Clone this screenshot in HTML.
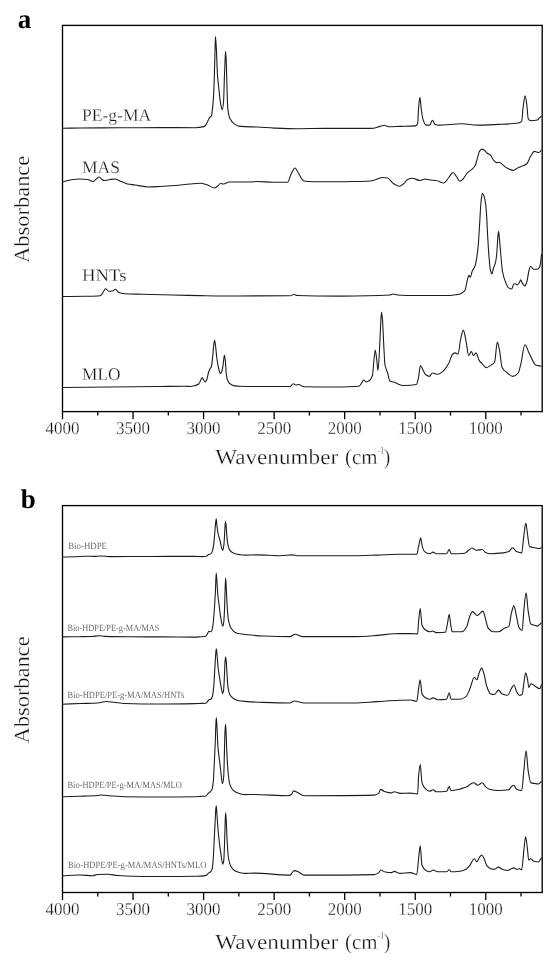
<!DOCTYPE html>
<html><head><meta charset="utf-8"><style>
html,body{margin:0;padding:0;background:#fff;}
svg{display:block;will-change:transform;text-rendering:geometricPrecision;}
text{font-family:"Liberation Serif",serif;fill:#111;stroke:#fff;stroke-width:0.28px;}
.tk{font-size:18px;}
.ti{font-size:21.5px;}
.ab{font-size:21.5px;}
.pl{font-size:27px;font-weight:bold;fill:#000;stroke:none;}
.sl{font-size:17.6px;}
.sb{font-size:9.5px;fill:#6a6a6a;stroke:none;}
.sp{fill:none;stroke:#1c1c1c;stroke-width:1.1;stroke-linejoin:round;}
</style></head><body>
<svg width="560" height="962" viewBox="0 0 560 962">
<rect x="62.5" y="25.4" width="479.70" height="386.20" fill="none" stroke="#000" stroke-width="1.35"/>
<line x1="521.04" y1="411.6" x2="521.04" y2="415.60" stroke="#000" stroke-width="1.3"/>
<line x1="485.76" y1="411.6" x2="485.76" y2="419.20" stroke="#000" stroke-width="1.3"/>
<text x="485.76" y="434.2" class="tk" text-anchor="middle" textLength="34" lengthAdjust="spacingAndGlyphs">1000</text>
<line x1="450.49" y1="411.6" x2="450.49" y2="415.60" stroke="#000" stroke-width="1.3"/>
<line x1="415.22" y1="411.6" x2="415.22" y2="419.20" stroke="#000" stroke-width="1.3"/>
<text x="415.22" y="434.2" class="tk" text-anchor="middle" textLength="34" lengthAdjust="spacingAndGlyphs">1500</text>
<line x1="379.95" y1="411.6" x2="379.95" y2="415.60" stroke="#000" stroke-width="1.3"/>
<line x1="344.68" y1="411.6" x2="344.68" y2="419.20" stroke="#000" stroke-width="1.3"/>
<text x="344.68" y="434.2" class="tk" text-anchor="middle" textLength="34" lengthAdjust="spacingAndGlyphs">2000</text>
<line x1="309.40" y1="411.6" x2="309.40" y2="415.60" stroke="#000" stroke-width="1.3"/>
<line x1="274.13" y1="411.6" x2="274.13" y2="419.20" stroke="#000" stroke-width="1.3"/>
<text x="274.13" y="434.2" class="tk" text-anchor="middle" textLength="34" lengthAdjust="spacingAndGlyphs">2500</text>
<line x1="238.86" y1="411.6" x2="238.86" y2="415.60" stroke="#000" stroke-width="1.3"/>
<line x1="203.59" y1="411.6" x2="203.59" y2="419.20" stroke="#000" stroke-width="1.3"/>
<text x="203.59" y="434.2" class="tk" text-anchor="middle" textLength="34" lengthAdjust="spacingAndGlyphs">3000</text>
<line x1="168.32" y1="411.6" x2="168.32" y2="415.60" stroke="#000" stroke-width="1.3"/>
<line x1="133.04" y1="411.6" x2="133.04" y2="419.20" stroke="#000" stroke-width="1.3"/>
<text x="133.04" y="434.2" class="tk" text-anchor="middle" textLength="34" lengthAdjust="spacingAndGlyphs">3500</text>
<line x1="97.77" y1="411.6" x2="97.77" y2="415.60" stroke="#000" stroke-width="1.3"/>
<line x1="62.50" y1="411.6" x2="62.50" y2="419.20" stroke="#000" stroke-width="1.3"/>
<text x="62.50" y="434.2" class="tk" text-anchor="middle" textLength="34" lengthAdjust="spacingAndGlyphs">4000</text>
<text x="215.2" y="464.3" class="ti" textLength="123" lengthAdjust="spacingAndGlyphs">Wavenumber</text>
<text x="345.0" y="464.3" class="ti" textLength="32.5" lengthAdjust="spacingAndGlyphs">(cm</text>
<text x="377.8" y="453.70" class="ti" style="font-size:11px" textLength="6.2" lengthAdjust="spacingAndGlyphs">-1</text>
<text x="383.9" y="464.3" class="ti" textLength="6.2" lengthAdjust="spacingAndGlyphs">)</text>
<text transform="translate(28.8,262.9) rotate(-90)" class="ab" textLength="107.2" lengthAdjust="spacingAndGlyphs">Absorbance</text>
<text x="17.8" y="27.7" class="pl">a</text>
<rect x="62.5" y="505.6" width="479.70" height="386.90" fill="none" stroke="#000" stroke-width="1.35"/>
<line x1="521.04" y1="892.5" x2="521.04" y2="896.50" stroke="#000" stroke-width="1.3"/>
<line x1="485.76" y1="892.5" x2="485.76" y2="900.10" stroke="#000" stroke-width="1.3"/>
<text x="485.76" y="914.6" class="tk" text-anchor="middle" textLength="34" lengthAdjust="spacingAndGlyphs">1000</text>
<line x1="450.49" y1="892.5" x2="450.49" y2="896.50" stroke="#000" stroke-width="1.3"/>
<line x1="415.22" y1="892.5" x2="415.22" y2="900.10" stroke="#000" stroke-width="1.3"/>
<text x="415.22" y="914.6" class="tk" text-anchor="middle" textLength="34" lengthAdjust="spacingAndGlyphs">1500</text>
<line x1="379.95" y1="892.5" x2="379.95" y2="896.50" stroke="#000" stroke-width="1.3"/>
<line x1="344.68" y1="892.5" x2="344.68" y2="900.10" stroke="#000" stroke-width="1.3"/>
<text x="344.68" y="914.6" class="tk" text-anchor="middle" textLength="34" lengthAdjust="spacingAndGlyphs">2000</text>
<line x1="309.40" y1="892.5" x2="309.40" y2="896.50" stroke="#000" stroke-width="1.3"/>
<line x1="274.13" y1="892.5" x2="274.13" y2="900.10" stroke="#000" stroke-width="1.3"/>
<text x="274.13" y="914.6" class="tk" text-anchor="middle" textLength="34" lengthAdjust="spacingAndGlyphs">2500</text>
<line x1="238.86" y1="892.5" x2="238.86" y2="896.50" stroke="#000" stroke-width="1.3"/>
<line x1="203.59" y1="892.5" x2="203.59" y2="900.10" stroke="#000" stroke-width="1.3"/>
<text x="203.59" y="914.6" class="tk" text-anchor="middle" textLength="34" lengthAdjust="spacingAndGlyphs">3000</text>
<line x1="168.32" y1="892.5" x2="168.32" y2="896.50" stroke="#000" stroke-width="1.3"/>
<line x1="133.04" y1="892.5" x2="133.04" y2="900.10" stroke="#000" stroke-width="1.3"/>
<text x="133.04" y="914.6" class="tk" text-anchor="middle" textLength="34" lengthAdjust="spacingAndGlyphs">3500</text>
<line x1="97.77" y1="892.5" x2="97.77" y2="896.50" stroke="#000" stroke-width="1.3"/>
<line x1="62.50" y1="892.5" x2="62.50" y2="900.10" stroke="#000" stroke-width="1.3"/>
<text x="62.50" y="914.6" class="tk" text-anchor="middle" textLength="34" lengthAdjust="spacingAndGlyphs">4000</text>
<text x="215.2" y="949.3" class="ti" textLength="123" lengthAdjust="spacingAndGlyphs">Wavenumber</text>
<text x="345.0" y="949.3" class="ti" textLength="32.5" lengthAdjust="spacingAndGlyphs">(cm</text>
<text x="377.8" y="938.70" class="ti" style="font-size:11px" textLength="6.2" lengthAdjust="spacingAndGlyphs">-1</text>
<text x="383.9" y="949.3" class="ti" textLength="6.2" lengthAdjust="spacingAndGlyphs">)</text>
<text transform="translate(28.8,743.5) rotate(-90)" class="ab" textLength="107.2" lengthAdjust="spacingAndGlyphs">Absorbance</text>
<text x="20.8" y="508.3" class="pl">b</text>
<path d="M62.50,128.30 C68.33,128.20 74.17,128.05 80.00,128.00 C93.33,127.89 106.67,127.87 120.00,127.80 C133.33,127.73 146.67,127.60 160.00,127.60 C171.67,127.60 183.33,127.70 195.00,127.70 C197.90,127.70 200.80,127.33 203.70,126.60 C204.43,126.42 205.17,125.78 205.90,125.00 C206.63,124.22 207.37,122.09 208.10,120.60 C208.63,119.52 209.17,117.83 209.70,117.30 C210.27,116.74 210.83,116.91 211.40,116.20 C211.77,115.74 212.13,111.81 212.50,108.60 C212.87,105.39 213.23,101.71 213.60,95.50 C213.87,90.99 214.13,82.08 214.40,73.70 C214.60,67.42 214.80,59.28 215.00,51.80 C215.13,46.81 215.27,36.50 215.40,36.50 C215.70,36.50 216.00,42.71 216.30,47.50 C216.67,53.36 217.03,68.33 217.40,73.70 C217.93,81.50 218.47,85.10 219.00,90.00 C219.57,95.21 220.13,101.45 220.70,104.20 C221.23,106.79 221.77,109.70 222.30,109.70 C222.73,109.70 223.17,105.94 223.60,101.00 C223.90,97.58 224.20,81.19 224.50,73.70 C224.67,69.54 224.83,66.21 225.00,62.80 C225.20,58.71 225.40,51.30 225.60,51.30 C225.87,51.30 226.13,58.37 226.40,64.90 C226.57,68.98 226.73,79.20 226.90,84.60 C227.20,94.32 227.50,105.97 227.80,108.60 C228.50,114.73 229.20,116.92 229.90,118.40 C231.37,121.50 232.83,122.85 234.30,123.90 C235.77,124.95 237.23,125.89 238.70,126.10 C240.80,126.40 242.90,126.50 245.00,126.60 C249.00,126.80 253.00,126.83 257.00,127.00 C262.77,127.25 268.53,127.88 274.30,128.10 C281.87,128.39 289.43,128.70 297.00,128.70 C306.57,128.70 316.13,128.40 325.70,128.40 C340.93,128.40 356.17,128.40 371.40,128.40 C374.27,128.40 377.13,127.10 380.00,126.40 C381.43,126.05 382.87,125.30 384.30,125.30 C385.73,125.30 387.17,126.70 388.60,126.70 C392.40,126.70 396.20,126.51 400.00,126.40 C405.17,126.25 410.33,126.32 415.50,125.90 C416.20,125.84 416.90,125.27 417.60,123.80 C417.93,123.10 418.27,111.98 418.60,108.30 C419.03,103.52 419.47,97.40 419.90,97.40 C420.33,97.40 420.77,105.11 421.20,108.30 C421.73,112.22 422.27,116.93 422.80,118.70 C423.83,122.13 424.87,125.10 425.90,125.10 C427.20,125.10 428.50,125.10 429.80,125.10 C430.67,125.10 431.53,120.20 432.40,120.20 C433.27,120.20 434.13,124.10 435.00,124.40 C436.27,124.84 437.53,125.10 438.80,125.10 C446.57,125.10 454.33,123.80 462.10,123.80 C467.30,123.80 472.50,125.10 477.70,125.10 C484.60,125.10 491.50,124.70 498.40,124.40 C504.43,124.14 510.47,124.03 516.50,123.30 C518.23,123.09 519.97,122.88 521.70,121.30 C522.13,120.91 522.57,111.58 523.00,108.30 C523.70,103.00 524.40,95.90 525.10,95.90 C525.70,95.90 526.30,101.40 526.90,105.70 C527.33,108.80 527.77,118.02 528.20,118.70 C529.07,120.07 529.93,120.70 530.80,120.70 C532.93,120.70 535.07,120.47 537.20,120.00 C538.07,119.81 538.93,118.14 539.80,117.40 C540.37,116.91 540.93,116.53 541.50,116.10" class="sp"/>
<path d="M62.50,182.00 C65.00,181.33 67.50,180.37 70.00,180.00 C73.33,179.50 76.67,179.00 80.00,179.00 C82.50,179.00 85.00,179.21 87.50,179.50 C89.33,179.71 91.17,181.50 93.00,181.50 C94.08,181.50 95.17,179.77 96.25,179.00 C97.25,178.29 98.25,177.00 99.25,177.00 C100.17,177.00 101.08,178.99 102.00,179.50 C102.83,179.96 103.67,180.50 104.50,180.50 C106.33,180.50 108.17,179.74 110.00,179.50 C111.67,179.29 113.33,179.00 115.00,179.00 C116.67,179.00 118.33,180.33 120.00,181.00 C122.50,182.00 125.00,183.50 127.50,184.00 C130.00,184.50 132.50,184.65 135.00,185.00 C139.58,185.63 144.17,187.00 148.75,187.00 C152.50,187.00 156.25,186.70 160.00,186.50 C165.00,186.24 170.00,185.90 175.00,185.50 C180.00,185.10 185.00,184.42 190.00,184.00 C193.33,183.72 196.67,183.25 200.00,183.25 C202.50,183.25 205.00,184.24 207.50,185.00 C209.83,185.71 212.17,188.00 214.50,188.00 C215.50,188.00 216.50,186.96 217.50,186.25 C218.50,185.54 219.50,183.50 220.50,183.50 C221.58,183.50 222.67,184.00 223.75,184.00 C225.42,184.00 227.08,182.00 228.75,182.00 C235.83,182.00 242.92,182.00 250.00,182.00 C252.50,182.00 255.00,181.50 257.50,181.50 C262.50,181.50 267.50,182.25 272.50,182.25 C277.50,182.25 282.50,182.25 287.50,182.25 C288.75,182.25 290.00,176.04 291.25,173.75 C292.50,171.46 293.75,168.00 295.00,168.00 C296.25,168.00 297.50,171.88 298.75,173.75 C300.42,176.24 302.08,180.71 303.75,181.00 C306.67,181.51 309.58,181.75 312.50,181.75 C321.67,181.75 330.83,181.75 340.00,181.75 C345.00,181.75 350.00,181.61 355.00,181.50 C360.00,181.39 365.00,181.33 370.00,181.00 C372.08,180.86 374.17,180.07 376.25,179.50 C378.33,178.93 380.42,177.50 382.50,177.50 C384.17,177.50 385.83,177.71 387.50,178.00 C389.58,178.36 391.67,182.53 393.75,183.75 C395.67,184.88 397.58,186.25 399.50,186.25 C400.92,186.25 402.33,184.85 403.75,183.75 C405.00,182.78 406.25,180.03 407.50,179.50 C409.17,178.80 410.83,178.25 412.50,178.25 C415.00,178.25 417.50,180.50 420.00,180.50 C421.67,180.50 423.33,179.00 425.00,179.00 C426.67,179.00 428.33,179.81 430.00,180.00 C432.08,180.24 434.17,180.24 436.25,180.50 C438.75,180.82 441.25,183.00 443.75,183.00 C445.42,183.00 447.08,179.40 448.75,177.50 C450.17,175.89 451.58,172.50 453.00,172.50 C454.08,172.50 455.17,174.91 456.25,176.25 C457.50,177.80 458.75,181.30 460.00,181.30 C461.00,181.30 462.00,179.97 463.00,179.00 C464.53,177.51 466.07,174.10 467.60,172.60 C469.10,171.13 470.60,170.62 472.10,169.20 C473.13,168.22 474.17,167.29 475.20,165.40 C475.97,164.00 476.73,160.27 477.50,157.80 C478.23,155.44 478.97,151.82 479.70,150.90 C480.47,149.94 481.23,149.10 482.00,149.10 C482.77,149.10 483.53,149.71 484.30,150.20 C485.30,150.84 486.30,152.46 487.30,153.20 C488.33,153.96 489.37,154.11 490.40,155.00 C491.40,155.86 492.40,158.86 493.40,160.00 C494.40,161.14 495.40,162.60 496.40,162.60 C497.43,162.60 498.47,162.30 499.50,162.30 C500.50,162.30 501.50,163.84 502.50,164.60 C504.03,165.77 505.57,167.31 507.10,168.10 C509.10,169.13 511.10,170.40 513.10,170.40 C514.63,170.40 516.17,168.82 517.70,168.10 C519.20,167.39 520.70,166.81 522.20,166.10 C523.73,165.38 525.27,165.05 526.80,163.80 C528.07,162.77 529.33,158.28 530.60,156.30 C531.87,154.32 533.13,151.40 534.40,151.40 C535.17,151.40 535.93,151.81 536.70,152.00 C537.43,152.18 538.17,152.50 538.90,152.50 C539.77,152.50 540.63,150.77 541.50,149.90" class="sp"/>
<path d="M62.50,296.50 C70.00,296.42 77.50,296.38 85.00,296.25 C90.00,296.16 95.00,296.16 100.00,295.75 C101.00,295.67 102.00,293.76 103.00,292.50 C103.83,291.45 104.67,288.75 105.50,288.75 C106.58,288.75 107.67,291.25 108.75,291.25 C110.00,291.25 111.25,291.15 112.50,291.00 C113.50,290.88 114.50,289.25 115.50,289.25 C116.58,289.25 117.67,292.11 118.75,292.50 C120.83,293.25 122.92,293.63 125.00,293.75 C130.83,294.08 136.67,294.09 142.50,294.25 C152.50,294.52 162.50,294.77 172.50,295.00 C181.67,295.21 190.83,295.47 200.00,295.60 C212.50,295.78 225.00,296.00 237.50,296.00 C255.00,296.00 272.50,295.98 290.00,295.75 C291.25,295.73 292.50,294.50 293.75,294.50 C295.00,294.50 296.25,295.46 297.50,295.50 C311.67,296.01 325.83,296.10 340.00,296.10 C356.67,296.10 373.33,295.93 390.00,295.00 C391.00,294.94 392.00,294.00 393.00,294.00 C394.50,294.00 396.00,294.91 397.50,295.00 C403.33,295.35 409.17,295.50 415.00,295.50 C426.67,295.50 438.33,295.50 450.00,295.50 C452.50,295.50 455.00,294.91 457.50,294.50 C458.33,294.36 459.17,294.25 460.00,294.00 C460.83,293.75 461.67,293.12 462.50,292.50 C463.43,291.80 464.37,291.44 465.30,289.70 C465.62,289.11 465.93,286.47 466.25,285.00 C466.70,282.90 467.15,280.75 467.60,279.10 C468.00,277.64 468.40,275.30 468.80,275.30 C469.30,275.30 469.80,277.30 470.30,277.30 C470.90,277.30 471.50,272.98 472.10,271.50 C473.13,268.94 474.17,268.55 475.20,265.50 C475.70,264.02 476.20,261.02 476.70,257.90 C477.20,254.78 477.70,251.00 478.20,245.70 C478.70,240.40 479.20,230.80 479.70,222.90 C480.10,216.58 480.50,207.19 480.90,203.20 C481.37,198.54 481.83,193.30 482.30,193.30 C482.97,193.30 483.63,195.18 484.30,197.10 C484.70,198.25 485.10,200.40 485.50,203.20 C485.87,205.77 486.23,210.17 486.60,215.40 C486.93,220.15 487.27,229.33 487.60,235.10 C488.10,243.75 488.60,252.16 489.10,257.90 C489.53,262.87 489.97,268.25 490.40,270.00 C490.90,272.02 491.40,273.80 491.90,273.80 C492.40,273.80 492.90,270.12 493.40,268.50 C494.17,266.02 494.93,265.21 495.70,261.70 C496.10,259.87 496.50,256.12 496.90,251.80 C497.23,248.20 497.57,239.90 497.90,236.60 C498.13,234.29 498.37,231.30 498.60,231.30 C498.90,231.30 499.20,236.55 499.50,239.60 C499.90,243.66 500.30,248.99 500.70,253.30 C501.30,259.76 501.90,268.23 502.50,271.50 C503.50,276.96 504.50,279.65 505.50,282.10 C506.53,284.63 507.57,287.27 508.60,287.90 C509.60,288.51 510.60,289.00 511.60,289.00 C512.37,289.00 513.13,284.27 513.90,284.00 C514.40,283.83 514.90,283.70 515.40,283.70 C516.07,283.70 516.73,284.90 517.40,284.90 C518.10,284.90 518.80,283.20 519.50,282.10 C519.90,281.47 520.30,279.90 520.70,279.90 C521.20,279.90 521.70,282.17 522.20,282.90 C523.13,284.27 524.07,286.00 525.00,286.00 C525.60,286.00 526.20,283.91 526.80,282.10 C527.57,279.79 528.33,272.56 529.10,270.00 C529.60,268.33 530.10,266.20 530.60,266.20 C531.60,266.20 532.60,269.20 533.60,269.20 C534.87,269.20 536.13,269.20 537.40,269.20 C538.17,269.20 538.93,268.31 539.70,266.90 C540.07,266.23 540.43,263.53 540.80,260.90 C541.03,259.23 541.27,256.30 541.50,254.00" class="sp"/>
<path d="M62.50,387.50 C78.33,387.33 94.17,387.16 110.00,387.00 C126.67,386.83 143.33,386.68 160.00,386.50 C168.33,386.41 176.67,386.20 185.00,386.20 C186.67,386.20 188.33,386.50 190.00,386.50 C191.67,386.50 193.33,386.03 195.00,385.60 C196.25,385.28 197.50,384.93 198.75,384.00 C199.37,383.54 199.98,381.75 200.60,380.60 C201.15,379.58 201.70,377.50 202.25,377.50 C202.75,377.50 203.25,379.56 203.75,380.25 C204.25,380.94 204.75,381.90 205.25,381.90 C205.80,381.90 206.35,380.64 206.90,379.40 C207.43,378.20 207.97,374.18 208.50,372.50 C209.00,370.92 209.50,369.75 210.00,368.75 C210.50,367.75 211.00,367.67 211.50,366.25 C211.83,365.30 212.17,361.70 212.50,358.75 C212.92,355.06 213.33,348.03 213.75,345.00 C214.03,342.94 214.32,340.25 214.60,340.25 C214.93,340.25 215.27,343.81 215.60,346.25 C216.03,349.42 216.47,355.70 216.90,358.75 C217.52,363.09 218.13,366.45 218.75,368.75 C219.30,370.80 219.85,373.50 220.40,373.50 C220.90,373.50 221.40,372.44 221.90,371.25 C222.30,370.30 222.70,367.48 223.10,365.00 C223.53,362.32 223.97,355.00 224.40,355.00 C224.73,355.00 225.07,358.29 225.40,361.25 C225.68,363.76 225.97,371.57 226.25,373.75 C226.67,376.96 227.08,378.98 227.50,380.00 C228.33,382.05 229.17,383.11 230.00,383.75 C231.25,384.71 232.50,385.37 233.75,385.60 C235.83,385.98 237.92,386.20 240.00,386.25 C246.67,386.42 253.33,386.50 260.00,386.50 C270.00,386.50 280.00,386.50 290.00,386.50 C291.08,386.50 292.17,383.75 293.25,383.75 C294.25,383.75 295.25,385.00 296.25,385.00 C297.08,385.00 297.92,384.50 298.75,384.50 C300.42,384.50 302.08,386.72 303.75,386.75 C314.17,386.96 324.58,387.00 335.00,387.00 C342.92,387.00 350.83,386.90 358.75,386.25 C359.58,386.18 360.42,384.75 361.25,383.75 C362.08,382.75 362.92,380.00 363.75,380.00 C364.58,380.00 365.42,382.00 366.25,382.00 C367.50,382.00 368.75,381.09 370.00,380.00 C370.83,379.27 371.67,378.00 372.50,375.00 C372.92,373.50 373.33,366.30 373.75,362.50 C374.25,357.94 374.75,350.00 375.25,350.00 C375.75,350.00 376.25,356.27 376.75,360.00 C377.17,363.11 377.58,370.50 378.00,370.50 C378.50,370.50 379.00,358.64 379.50,350.00 C379.83,344.24 380.17,333.62 380.50,327.50 C380.83,321.38 381.17,312.00 381.50,312.00 C381.83,312.00 382.17,316.25 382.50,320.00 C382.92,324.69 383.33,337.59 383.75,345.00 C384.17,352.41 384.58,362.72 385.00,365.00 C385.83,369.56 386.67,369.81 387.50,372.50 C388.33,375.19 389.17,380.91 390.00,381.25 C391.25,381.75 392.50,381.65 393.75,382.00 C394.83,382.31 395.92,383.07 397.00,383.50 C399.00,384.29 401.00,385.50 403.00,385.50 C407.47,385.50 411.93,385.35 416.40,384.50 C417.13,384.36 417.87,380.29 418.60,377.00 C419.20,374.31 419.80,365.50 420.40,365.50 C421.30,365.50 422.20,368.75 423.10,370.30 C424.00,371.85 424.90,374.14 425.80,374.80 C426.97,375.66 428.13,376.40 429.30,376.40 C430.37,376.40 431.43,373.00 432.50,373.00 C434.30,373.00 436.10,374.30 437.90,374.30 C439.67,374.30 441.43,372.59 443.20,371.10 C445.00,369.59 446.80,366.78 448.60,363.60 C449.93,361.24 451.27,355.22 452.60,354.20 C453.50,353.51 454.40,352.90 455.30,352.90 C456.20,352.90 457.10,354.20 458.00,354.20 C458.87,354.20 459.73,343.24 460.60,339.50 C461.50,335.62 462.40,330.10 463.30,330.10 C464.20,330.10 465.10,336.67 466.00,340.80 C466.90,344.93 467.80,355.50 468.70,355.50 C469.57,355.50 470.43,351.50 471.30,351.50 C472.03,351.50 472.77,355.50 473.50,355.50 C474.30,355.50 475.10,352.90 475.90,352.90 C477.07,352.90 478.23,359.30 479.40,360.90 C480.30,362.13 481.20,362.70 482.10,363.60 C483.43,364.93 484.77,367.60 486.10,367.60 C487.87,367.60 489.63,366.05 491.40,364.90 C492.47,364.21 493.53,363.85 494.60,362.20 C495.50,360.80 496.40,342.10 497.30,342.10 C498.03,342.10 498.77,346.74 499.50,350.20 C500.37,354.28 501.23,365.95 502.10,367.60 C503.90,371.03 505.70,371.61 507.50,373.00 C509.30,374.39 511.10,376.40 512.90,376.40 C514.67,376.40 516.43,375.07 518.20,373.00 C519.10,371.95 520.00,367.17 520.90,363.60 C522.23,358.32 523.57,344.80 524.90,344.80 C526.27,344.80 527.63,350.15 529.00,352.90 C529.87,354.64 530.73,356.60 531.60,358.20 C532.93,360.67 534.27,364.32 535.60,364.90 C537.57,365.76 539.53,365.83 541.50,366.30" class="sp"/>
<path d="M62.50,557.00 C66.67,556.93 70.83,556.91 75.00,556.80 C78.33,556.71 81.67,556.20 85.00,556.20 C88.33,556.20 91.67,556.40 95.00,556.40 C96.67,556.40 98.33,556.00 100.00,556.00 C103.33,556.00 106.67,556.60 110.00,556.60 C120.00,556.60 130.00,556.53 140.00,556.50 C150.00,556.47 160.00,556.40 170.00,556.40 C178.33,556.40 186.67,556.40 195.00,556.40 C197.37,556.40 199.73,556.60 202.10,556.60 C203.60,556.60 205.10,556.49 206.60,556.25 C207.20,556.15 207.80,554.93 208.40,554.60 C209.30,554.11 210.20,554.21 211.10,553.60 C211.53,553.31 211.97,552.32 212.40,551.10 C212.85,549.83 213.30,547.16 213.75,543.90 C214.03,541.85 214.32,538.15 214.60,535.00 C214.90,531.66 215.20,527.08 215.50,524.30 C215.73,522.14 215.97,518.90 216.20,518.90 C216.43,518.90 216.67,523.36 216.90,525.20 C217.33,528.62 217.77,532.06 218.20,534.10 C218.80,536.93 219.40,538.05 220.00,540.40 C220.60,542.75 221.20,547.02 221.80,548.40 C222.17,549.25 222.53,550.20 222.90,550.20 C223.27,550.20 223.63,547.14 224.00,543.90 C224.23,541.84 224.47,536.01 224.70,532.30 C224.93,528.59 225.17,521.60 225.40,521.60 C225.63,521.60 225.87,523.40 226.10,525.20 C226.30,526.75 226.50,531.69 226.70,534.10 C227.00,537.71 227.30,541.20 227.60,543.00 C228.03,545.60 228.47,547.47 228.90,548.40 C229.80,550.33 230.70,551.34 231.60,552.00 C232.80,552.87 234.00,553.41 235.20,553.75 C236.67,554.16 238.13,554.41 239.60,554.60 C241.40,554.83 243.20,555.10 245.00,555.10 C249.00,555.10 253.00,554.90 257.00,554.90 C264.67,554.90 272.33,555.70 280.00,555.70 C284.30,555.70 288.60,554.90 292.90,554.90 C294.27,554.90 295.63,555.70 297.00,555.70 C316.00,555.70 335.00,555.70 354.00,555.70 C361.67,555.70 369.33,555.34 377.00,555.10 C384.67,554.86 392.33,554.20 400.00,554.20 C405.60,554.20 411.20,554.20 416.80,554.20 C417.40,554.20 418.00,548.91 418.60,546.40 C419.30,543.47 420.00,537.90 420.70,537.90 C421.23,537.90 421.77,544.67 422.30,546.40 C423.07,548.89 423.83,551.02 424.60,551.60 C426.33,552.91 428.07,553.70 429.80,553.70 C430.90,553.70 432.00,552.10 433.10,552.10 C434.17,552.10 435.23,553.70 436.30,553.70 C439.73,553.70 443.17,553.70 446.60,553.70 C447.47,553.70 448.33,549.50 449.20,549.50 C449.90,549.50 450.60,553.70 451.30,553.70 C455.77,553.70 460.23,553.58 464.70,553.20 C466.00,553.09 467.30,551.22 468.60,550.30 C469.73,549.50 470.87,548.00 472.00,548.00 C473.47,548.00 474.93,550.30 476.40,550.30 C478.37,550.30 480.33,549.50 482.30,549.50 C483.33,549.50 484.37,551.97 485.40,552.40 C487.13,553.12 488.87,553.70 490.60,553.70 C494.93,553.70 499.27,553.37 503.60,552.90 C505.33,552.71 507.07,552.32 508.80,551.60 C510.07,551.07 511.33,547.70 512.60,547.70 C513.90,547.70 515.20,551.06 516.50,551.60 C518.23,552.31 519.97,552.90 521.70,552.90 C522.40,552.90 523.10,541.12 523.80,536.10 C524.47,531.32 525.13,523.10 525.80,523.10 C526.33,523.10 526.87,530.13 527.40,533.50 C528.10,537.93 528.80,546.01 529.50,546.40 C531.20,547.35 532.90,547.37 534.60,547.70 C536.33,548.03 538.07,548.50 539.80,548.50 C540.37,548.50 540.93,547.63 541.50,547.20" class="sp"/>
<path d="M62.50,636.90 C68.33,636.83 74.17,636.78 80.00,636.70 C84.00,636.65 88.00,636.62 92.00,636.50 C94.25,636.43 96.50,635.75 98.75,635.75 C100.83,635.75 102.92,636.33 105.00,636.40 C113.33,636.67 121.67,636.75 130.00,636.80 C140.00,636.86 150.00,636.86 160.00,636.90 C171.67,636.95 183.33,637.10 195.00,637.10 C196.80,637.10 198.60,636.93 200.40,636.80 C202.17,636.67 203.93,636.65 205.70,636.25 C206.30,636.12 206.90,634.73 207.50,633.75 C207.93,633.04 208.37,631.25 208.80,631.25 C209.27,631.25 209.73,631.80 210.20,631.80 C210.63,631.80 211.07,631.51 211.50,631.10 C211.97,630.66 212.43,628.38 212.90,625.70 C213.33,623.21 213.77,617.11 214.20,611.40 C214.60,606.13 215.00,599.60 215.40,591.80 C215.67,586.60 215.93,573.00 216.20,573.00 C216.43,573.00 216.67,578.08 216.90,581.10 C217.20,584.99 217.50,591.26 217.80,594.50 C218.23,599.18 218.67,601.80 219.10,605.20 C219.70,609.90 220.30,615.37 220.90,618.60 C221.50,621.83 222.10,626.20 222.70,626.20 C223.05,626.20 223.40,624.39 223.75,622.10 C224.00,620.46 224.25,615.19 224.50,609.60 C224.70,605.13 224.90,595.51 225.10,590.00 C225.27,585.41 225.43,578.00 225.60,578.00 C225.82,578.00 226.03,583.64 226.25,587.30 C226.53,592.09 226.82,601.03 227.10,605.20 C227.57,612.06 228.03,617.98 228.50,620.40 C229.23,624.20 229.97,626.23 230.70,627.50 C232.20,630.09 233.70,631.68 235.20,632.40 C236.67,633.10 238.13,633.47 239.60,633.75 C241.40,634.10 243.20,634.30 245.00,634.50 C250.97,635.15 256.93,635.78 262.90,636.00 C271.93,636.33 280.97,636.60 290.00,636.60 C291.63,636.60 293.27,634.30 294.90,634.30 C297.57,634.30 300.23,636.60 302.90,636.60 C320.03,636.60 337.17,636.60 354.30,636.60 C361.90,636.60 369.50,635.93 377.10,635.40 C382.83,635.00 388.57,633.85 394.30,633.70 C396.20,633.65 398.10,633.60 400.00,633.60 C403.47,633.60 406.93,633.60 410.40,633.60 C412.80,633.60 415.20,633.90 417.60,633.90 C417.93,633.90 418.27,624.72 418.60,621.40 C419.13,616.08 419.67,608.50 420.20,608.50 C420.80,608.50 421.40,623.68 422.00,625.30 C422.87,627.64 423.73,628.51 424.60,629.20 C426.33,630.58 428.07,631.80 429.80,631.80 C430.67,631.80 431.53,631.00 432.40,631.00 C433.70,631.00 435.00,632.60 436.30,632.60 C439.30,632.60 442.30,632.55 445.30,632.30 C446.00,632.24 446.70,627.22 447.40,624.00 C448.00,621.24 448.60,614.20 449.20,614.20 C449.73,614.20 450.27,622.46 450.80,625.30 C451.30,627.96 451.80,631.80 452.30,631.80 C455.57,631.80 458.83,631.80 462.10,631.80 C463.67,631.80 465.23,629.37 466.80,626.60 C467.67,625.07 468.53,619.66 469.40,617.50 C470.43,614.93 471.47,611.60 472.50,611.60 C474.07,611.60 475.63,615.50 477.20,615.50 C479.10,615.50 481.00,611.10 482.90,611.10 C483.77,611.10 484.63,615.97 485.50,618.80 C486.33,621.52 487.17,626.78 488.00,627.90 C489.73,630.24 491.47,631.80 493.20,631.80 C494.93,631.80 496.67,631.80 498.40,631.80 C500.57,631.80 502.73,628.81 504.90,627.90 C506.20,627.36 507.50,627.47 508.80,626.60 C509.63,626.04 510.47,616.87 511.30,613.70 C512.17,610.41 513.03,605.90 513.90,605.90 C514.77,605.90 515.63,612.64 516.50,616.30 C517.37,619.96 518.23,626.65 519.10,627.90 C520.13,629.39 521.17,630.50 522.20,630.50 C522.73,630.50 523.27,616.27 523.80,611.10 C524.57,603.66 525.33,592.90 526.10,592.90 C526.80,592.90 527.50,606.64 528.20,611.10 C529.07,616.62 529.93,623.41 530.80,624.00 C532.07,624.86 533.33,624.89 534.60,625.30 C535.47,625.58 536.33,626.10 537.20,626.10 C538.63,626.10 540.07,623.83 541.50,622.70" class="sp"/>
<path d="M62.50,704.25 C68.33,704.00 74.17,703.70 80.00,703.50 C85.83,703.30 91.67,703.31 97.50,703.00 C100.42,702.84 103.33,701.50 106.25,701.50 C108.75,701.50 111.25,701.99 113.75,702.25 C117.50,702.64 121.25,703.39 125.00,703.50 C136.67,703.84 148.33,704.00 160.00,704.00 C171.67,704.00 183.33,703.83 195.00,703.60 C196.80,703.56 198.60,703.47 200.40,703.40 C202.17,703.33 203.93,703.35 205.70,703.20 C206.30,703.15 206.90,702.22 207.50,701.60 C208.10,700.98 208.70,699.67 209.30,699.40 C209.90,699.13 210.50,699.21 211.10,698.90 C211.53,698.68 211.97,697.63 212.40,696.25 C212.85,694.82 213.30,690.99 213.75,686.40 C214.10,682.83 214.45,675.27 214.80,669.50 C215.10,664.55 215.40,657.75 215.70,654.30 C215.90,652.00 216.10,648.90 216.30,648.90 C216.57,648.90 216.83,652.61 217.10,655.20 C217.40,658.12 217.70,664.03 218.00,666.80 C218.52,671.57 219.03,674.15 219.55,677.50 C220.13,681.29 220.72,685.46 221.30,688.20 C221.77,690.39 222.23,693.60 222.70,693.60 C223.00,693.60 223.30,691.96 223.60,690.00 C223.90,688.04 224.20,680.04 224.50,673.90 C224.67,670.49 224.83,664.46 225.00,662.30 C225.20,659.71 225.40,657.00 225.60,657.00 C225.82,657.00 226.03,659.33 226.25,661.40 C226.50,663.78 226.75,670.17 227.00,673.90 C227.33,678.88 227.67,685.13 228.00,687.30 C228.60,691.20 229.20,693.39 229.80,694.50 C231.00,696.73 232.20,697.73 233.40,698.50 C234.90,699.47 236.40,700.19 237.90,700.50 C240.27,700.99 242.63,701.21 245.00,701.40 C250.97,701.89 256.93,702.21 262.90,702.40 C271.93,702.70 280.97,703.00 290.00,703.00 C291.43,703.00 292.87,701.00 294.30,701.00 C297.63,701.00 300.97,703.00 304.30,703.00 C320.97,703.00 337.63,703.00 354.30,703.00 C361.90,703.00 369.50,702.05 377.10,701.60 C384.73,701.15 392.37,700.58 400.00,700.30 C403.47,700.17 406.93,700.00 410.40,700.00 C412.53,700.00 414.67,701.30 416.80,701.30 C417.40,701.30 418.00,692.52 418.60,688.80 C419.13,685.49 419.67,679.80 420.20,679.80 C420.80,679.80 421.40,692.82 422.00,694.00 C423.30,696.55 424.60,697.25 425.90,697.90 C427.20,698.55 428.50,699.20 429.80,699.20 C430.90,699.20 432.00,697.90 433.10,697.90 C434.57,697.90 436.03,699.70 437.50,699.70 C440.53,699.70 443.57,699.60 446.60,699.20 C447.47,699.09 448.33,692.70 449.20,692.70 C449.80,692.70 450.40,699.20 451.00,699.20 C453.87,699.20 456.73,699.20 459.60,699.20 C461.73,699.20 463.87,698.12 466.00,696.60 C467.30,695.67 468.60,691.75 469.90,688.80 C471.37,685.47 472.83,677.20 474.30,677.20 C475.17,677.20 476.03,679.80 476.90,679.80 C477.60,679.80 478.30,675.01 479.00,673.30 C479.87,671.18 480.73,668.10 481.60,668.10 C482.47,668.10 483.33,671.77 484.20,674.60 C485.03,677.32 485.87,683.92 486.70,686.30 C488.00,690.02 489.30,693.69 490.60,694.00 C491.90,694.31 493.20,694.50 494.50,694.50 C495.80,694.50 497.10,690.10 498.40,690.10 C499.70,690.10 501.00,693.46 502.30,694.00 C504.03,694.71 505.77,695.30 507.50,695.30 C508.77,695.30 510.03,690.79 511.30,688.80 C512.17,687.44 513.03,685.00 513.90,685.00 C514.77,685.00 515.63,689.78 516.50,691.40 C517.37,693.02 518.23,695.30 519.10,695.30 C520.13,695.30 521.17,695.07 522.20,694.50 C522.73,694.21 523.27,687.11 523.80,683.70 C524.40,679.87 525.00,672.80 525.60,672.80 C526.20,672.80 526.80,675.99 527.40,678.50 C527.90,680.59 528.40,687.50 528.90,687.50 C529.53,687.50 530.17,683.70 530.80,683.70 C532.07,683.70 533.33,684.99 534.60,685.70 C536.33,686.67 538.07,688.80 539.80,688.80 C540.37,688.80 540.93,685.93 541.50,684.50" class="sp"/>
<path d="M62.50,796.75 C68.33,796.58 74.17,796.45 80.00,796.25 C85.83,796.05 91.67,795.93 97.50,795.50 C98.75,795.41 100.00,795.00 101.25,795.00 C104.17,795.00 107.08,795.53 110.00,795.75 C115.00,796.13 120.00,796.68 125.00,796.75 C136.67,796.92 148.33,797.00 160.00,797.00 C171.67,797.00 183.33,796.95 195.00,796.80 C196.90,796.77 198.80,796.54 200.70,796.40 C202.47,796.27 204.23,796.29 206.00,796.00 C206.63,795.90 207.27,794.28 207.90,793.65 C208.70,792.86 209.50,792.53 210.30,791.70 C210.87,791.11 211.43,790.65 212.00,789.35 C212.40,788.43 212.80,786.06 213.20,782.65 C213.57,779.53 213.93,770.64 214.30,763.50 C214.63,757.01 214.97,750.18 215.30,741.50 C215.47,737.16 215.63,729.92 215.80,726.25 C215.97,722.58 216.13,717.65 216.30,717.65 C216.53,717.65 216.77,723.36 217.00,727.20 C217.30,732.14 217.60,742.40 217.90,746.30 C218.40,752.81 218.90,755.42 219.40,759.70 C219.87,763.69 220.33,767.48 220.80,771.20 C221.33,775.46 221.87,783.60 222.40,783.60 C222.83,783.60 223.27,781.09 223.70,776.90 C223.93,774.64 224.17,761.44 224.40,753.00 C224.57,746.97 224.73,737.71 224.90,733.90 C225.10,729.33 225.30,724.30 225.50,724.30 C225.70,724.30 225.90,729.23 226.10,732.90 C226.33,737.18 226.57,746.25 226.80,751.10 C227.20,759.41 227.60,767.10 228.00,771.20 C228.63,777.69 229.27,782.74 229.90,784.60 C231.00,787.83 232.10,789.29 233.20,790.30 C234.50,791.50 235.80,792.23 237.10,792.70 C239.73,793.66 242.37,794.60 245.00,794.60 C248.10,794.60 251.20,794.50 254.30,794.50 C265.73,794.50 277.17,795.70 288.60,795.70 C289.53,795.70 290.47,795.01 291.40,794.30 C292.17,793.72 292.93,790.90 293.70,790.90 C294.83,790.90 295.97,791.81 297.10,792.30 C299.50,793.35 301.90,795.70 304.30,795.70 C327.63,795.70 350.97,795.65 374.30,795.10 C375.73,795.07 377.17,794.43 378.60,793.40 C379.27,792.92 379.93,789.40 380.60,789.40 C381.83,789.40 383.07,791.01 384.30,791.40 C386.67,792.15 389.03,792.90 391.40,792.90 C392.37,792.90 393.33,791.70 394.30,791.70 C396.20,791.70 398.10,793.40 400.00,793.40 C403.47,793.40 406.93,793.10 410.40,793.10 C412.80,793.10 415.20,793.90 417.60,793.90 C417.93,793.90 418.27,779.86 418.60,776.30 C419.13,770.61 419.67,764.60 420.20,764.60 C420.80,764.60 421.40,780.61 422.00,782.70 C422.87,785.71 423.73,786.99 424.60,787.90 C426.33,789.71 428.07,791.30 429.80,791.30 C430.90,791.30 432.00,789.70 433.10,789.70 C434.17,789.70 435.23,791.80 436.30,791.80 C439.73,791.80 443.17,791.70 446.60,791.30 C447.47,791.20 448.33,786.60 449.20,786.60 C449.80,786.60 450.40,790.50 451.00,790.50 C453.87,790.50 456.73,789.83 459.60,789.20 C460.87,788.92 462.13,788.33 463.40,787.90 C464.70,787.46 466.00,787.23 467.30,786.60 C468.17,786.18 469.03,785.02 469.90,784.50 C471.20,783.72 472.50,782.70 473.80,782.70 C475.10,782.70 476.40,785.30 477.70,785.30 C479.23,785.30 480.77,782.70 482.30,782.70 C483.33,782.70 484.37,785.69 485.40,786.60 C486.70,787.75 488.00,788.87 489.30,789.20 C492.33,789.98 495.37,790.50 498.40,790.50 C501.87,790.50 505.33,790.29 508.80,789.70 C509.83,789.52 510.87,786.69 511.90,786.10 C512.57,785.72 513.23,785.30 513.90,785.30 C514.77,785.30 515.63,788.80 516.50,789.20 C518.23,790.01 519.97,790.50 521.70,790.50 C522.40,790.50 523.10,777.41 523.80,771.10 C524.57,764.19 525.33,750.90 526.10,750.90 C526.80,750.90 527.50,766.78 528.20,771.10 C529.07,776.45 529.93,782.33 530.80,782.70 C532.07,783.24 533.33,783.30 534.60,783.50 C535.90,783.71 537.20,784.00 538.50,784.00 C539.50,784.00 540.50,782.27 541.50,781.40" class="sp"/>
<path d="M62.50,875.75 C68.33,875.50 74.17,875.00 80.00,875.00 C84.17,875.00 88.33,875.75 92.50,875.75 C94.17,875.75 95.83,874.58 97.50,874.50 C100.83,874.33 104.17,874.25 107.50,874.25 C110.83,874.25 114.17,875.21 117.50,875.50 C120.00,875.71 122.50,875.93 125.00,876.00 C136.67,876.32 148.33,876.50 160.00,876.50 C171.67,876.50 183.33,876.44 195.00,876.30 C196.80,876.28 198.60,876.20 200.40,876.10 C202.33,875.99 204.27,875.87 206.20,875.40 C206.93,875.22 207.67,873.79 208.40,873.20 C209.30,872.48 210.20,872.43 211.10,871.40 C211.53,870.90 211.97,869.85 212.40,867.90 C212.70,866.55 213.00,862.24 213.30,858.00 C213.60,853.76 213.90,846.15 214.20,840.20 C214.50,834.25 214.80,828.18 215.10,822.30 C215.30,818.38 215.50,813.13 215.70,810.70 C215.88,808.48 216.07,805.80 216.25,805.80 C216.47,805.80 216.68,810.58 216.90,813.40 C217.20,817.30 217.50,823.10 217.80,826.80 C218.23,832.14 218.67,836.42 219.10,840.20 C219.70,845.43 220.30,849.63 220.90,853.60 C221.50,857.57 222.10,864.30 222.70,864.30 C223.05,864.30 223.40,862.86 223.75,860.70 C224.00,859.16 224.25,851.13 224.50,844.60 C224.70,839.38 224.90,830.54 225.10,825.00 C225.27,820.39 225.43,812.90 225.60,812.90 C225.82,812.90 226.03,817.18 226.25,820.50 C226.53,824.84 226.82,835.43 227.10,840.20 C227.57,848.05 228.03,855.22 228.50,858.00 C229.23,862.37 229.97,864.70 230.70,866.10 C231.90,868.39 233.10,869.76 234.30,870.50 C235.78,871.42 237.27,871.93 238.75,872.30 C240.83,872.82 242.92,873.40 245.00,873.40 C248.10,873.40 251.20,873.10 254.30,873.10 C266.20,873.10 278.10,875.10 290.00,875.10 C290.67,875.10 291.33,873.60 292.00,872.90 C292.77,872.10 293.53,870.60 294.30,870.60 C295.73,870.60 297.17,871.42 298.60,872.00 C300.50,872.76 302.40,875.10 304.30,875.10 C327.63,875.10 350.97,875.06 374.30,874.60 C375.73,874.57 377.17,873.81 378.60,872.90 C379.37,872.41 380.13,870.00 380.90,870.00 C382.03,870.00 383.17,871.45 384.30,871.70 C386.67,872.21 389.03,872.60 391.40,872.60 C392.37,872.60 393.33,871.40 394.30,871.40 C396.20,871.40 398.10,873.40 400.00,873.40 C403.47,873.40 406.93,872.60 410.40,872.60 C412.53,872.60 414.67,874.40 416.80,874.40 C417.40,874.40 418.00,863.81 418.60,858.80 C419.13,854.35 419.67,845.90 420.20,845.90 C420.80,845.90 421.40,863.73 422.00,865.30 C423.30,868.71 424.60,869.81 425.90,870.50 C427.20,871.19 428.50,871.80 429.80,871.80 C430.90,871.80 432.00,870.00 433.10,870.00 C434.57,870.00 436.03,871.80 437.50,871.80 C440.53,871.80 443.57,871.80 446.60,871.80 C447.47,871.80 448.33,869.70 449.20,869.70 C449.90,869.70 450.60,871.80 451.30,871.80 C454.07,871.80 456.83,871.59 459.60,871.30 C461.73,871.08 463.87,870.30 466.00,869.20 C467.30,868.53 468.60,866.84 469.90,865.30 C471.37,863.56 472.83,858.80 474.30,858.80 C475.17,858.80 476.03,861.90 476.90,861.90 C477.60,861.90 478.30,859.33 479.00,858.30 C479.87,857.03 480.73,855.00 481.60,855.00 C482.47,855.00 483.33,857.18 484.20,858.80 C485.03,860.36 485.87,864.17 486.70,865.30 C488.00,867.06 489.30,868.41 490.60,868.70 C491.90,868.99 493.20,869.20 494.50,869.20 C495.80,869.20 497.10,867.10 498.40,867.10 C499.70,867.10 501.00,868.75 502.30,869.20 C504.03,869.80 505.77,870.50 507.50,870.50 C508.77,870.50 510.03,869.17 511.30,868.70 C512.17,868.38 513.03,867.90 513.90,867.90 C514.77,867.90 515.63,869.20 516.50,869.20 C517.53,869.20 518.57,868.70 519.60,868.70 C520.30,868.70 521.00,869.70 521.70,869.70 C522.40,869.70 523.10,856.96 523.80,851.10 C524.40,846.08 525.00,836.80 525.60,836.80 C526.20,836.80 526.80,843.95 527.40,848.50 C527.83,851.79 528.27,860.10 528.70,860.10 C529.40,860.10 530.10,858.80 530.80,858.80 C531.63,858.80 532.47,860.60 533.30,860.90 C535.03,861.53 536.77,862.00 538.50,862.00 C539.50,862.00 540.50,859.00 541.50,857.50" class="sp"/>
<text x="82" y="120.9" class="sl" textLength="69.25" lengthAdjust="spacingAndGlyphs">PE-g-MA</text>
<text x="82" y="172.6" class="sl" textLength="38" lengthAdjust="spacingAndGlyphs">MAS</text>
<text x="82" y="281.0" class="sl" textLength="44.5" lengthAdjust="spacingAndGlyphs">HNTs</text>
<text x="82" y="379.7" class="sl" textLength="38.5" lengthAdjust="spacingAndGlyphs">MLO</text>
<text x="68.25" y="548.75" class="sb" textLength="38.75" lengthAdjust="spacingAndGlyphs">Bio-HDPE</text>
<text x="67.5" y="630.5" class="sb" textLength="92" lengthAdjust="spacingAndGlyphs">Bio-HDPE/PE-g-MA/MAS</text>
<text x="67.5" y="698.0" class="sb" textLength="116.75" lengthAdjust="spacingAndGlyphs">Bio-HDPE/PE-g-MA/MAS/HNTs</text>
<text x="67.5" y="788.0" class="sb" textLength="114.25" lengthAdjust="spacingAndGlyphs">Bio-HDPE/PE-g-MA/MAS/MLO</text>
<text x="68" y="867.9" class="sb" textLength="138.3" lengthAdjust="spacingAndGlyphs">Bio-HDPE/PE-g-MA/MAS/HNTs/MLO</text>
</svg>
</body></html>
